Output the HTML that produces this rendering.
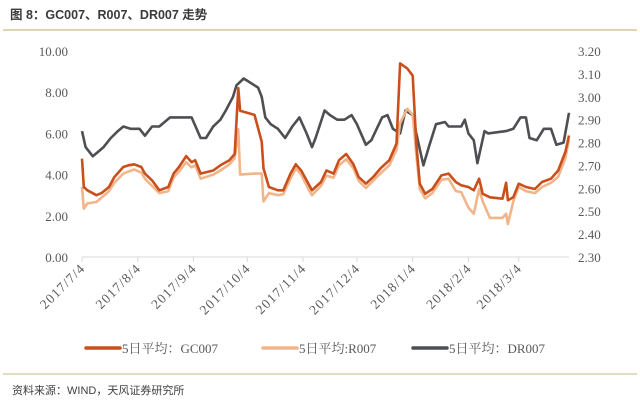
<!DOCTYPE html>
<html><head><meta charset="utf-8"><style>
body{margin:0;background:#fff;width:640px;height:402px;overflow:hidden;font-family:"Liberation Sans","Noto Sans CJK SC",sans-serif}
svg{display:block}
</style></head><body>
<svg id="chart" width="640" height="402">
<text x="10" y="19" font-size="12.5" font-weight="bold" fill="#3a3a3a" font-family="Liberation Sans,Noto Sans CJK SC,sans-serif">图 8：GC007、R007、DR007 走势</text>
<line x1="3" y1="30" x2="637" y2="30" stroke="#d8c59a" stroke-width="1.5"/>
<line x1="3" y1="374" x2="637" y2="374" stroke="#d8cfa8" stroke-width="1.5"/>
<text x="12" y="394" font-size="11" fill="#404040">资料来源：WIND，天风证券研究所</text>
<g id="plot"></g>
</svg>
<script>
const days=[0,1,3,8,11,15,18,23,26,29,33,35,39,43,48,51,54,58,61,63,66,73,77,82,85,87,88,96,100,101,104,109,112,116,119,122,126,128,133,136,140,143,147,151,154,158,162,166,171,175,177,181,184,186,188,191,195,200,204,208,211,215,218,221,223,227,234,236,237,240,243,247,252,256,261,265,269,271];
const gc007=[4.77,3.4,3.24,3.0,3.11,3.4,3.88,4.37,4.45,4.5,4.37,4.05,3.72,3.24,3.4,4.05,4.37,4.9,4.6,4.7,4.05,4.2,4.45,4.7,5.0,8.2,7.1,6.9,5.6,4.3,3.4,3.24,3.24,4.05,4.5,4.2,3.56,3.24,3.64,4.2,4.05,4.7,5.0,4.5,3.88,3.56,3.88,4.29,4.7,5.5,9.4,9.15,8.8,5.5,3.56,3.07,3.3,3.96,4.05,3.64,3.48,3.4,3.24,3.8,3.07,2.9,2.83,3.6,2.75,2.9,3.56,3.4,3.3,3.64,3.8,4.2,5.1,5.9];
const r007=[3.4,2.35,2.6,2.67,2.9,3.2,3.6,4.05,4.15,4.25,4.1,3.8,3.45,3.1,3.2,3.85,4.15,4.6,4.35,4.45,3.8,4.0,4.2,4.5,4.8,6.2,4.0,4.05,4.05,2.7,3.1,3.0,3.05,3.8,4.3,4.0,3.3,3.0,3.45,3.95,3.85,4.45,4.75,4.3,3.7,3.35,3.7,4.05,4.45,5.2,6.5,7.2,6.9,5.0,3.3,2.85,3.1,3.75,3.8,3.2,3.15,2.4,2.1,3.3,2.7,1.9,1.9,2.1,1.6,2.7,3.4,3.2,3.1,3.4,3.6,3.9,4.8,5.7];
const drDays=[0,2,6,9,12,16,20,23,27,32,35,39,43,49,54,61,66,69,73,77,80,84,86,90,98,100,102,105,109,113,117,121,125,128,130,135,138,142,146,150,153,158,161,167,170,173,177,180,184,186,190,193,197,202,204,211,213,215,218,220,224,226,236,240,244,247,249,253,257,261,264,268,271];
const dr007=[2.85,2.78,2.74,2.76,2.78,2.82,2.85,2.87,2.86,2.86,2.83,2.87,2.87,2.91,2.91,2.91,2.82,2.82,2.87,2.9,2.94,3.0,3.05,3.08,3.04,3.0,2.91,2.88,2.86,2.82,2.87,2.91,2.84,2.78,2.82,2.94,2.92,2.9,2.9,2.92,2.88,2.79,2.81,2.91,2.92,2.86,2.84,2.94,2.92,2.84,2.7,2.78,2.88,2.89,2.87,2.87,2.9,2.84,2.81,2.71,2.85,2.84,2.85,2.86,2.91,2.91,2.82,2.81,2.86,2.86,2.79,2.8,2.93];
const leftTicks=["0.00","2.00","4.00","6.00","8.00","10.00"];
const rightTicks=["2.30","2.40","2.50","2.60","2.70","2.80","2.90","3.00","3.10","3.20"];
const xLabels=["2017/7/4","2017/8/4","2017/9/4","2017/10/4","2017/11/4","2017/12/4","2018/1/4","2018/2/4","2018/3/4"];
const xTickDays=[0,31,62,92,123,153,184,215,243];

const X0=82,X1=569,D1=271,YT=51,YB=257;
const xs=d=>X0+(X1-X0)*d/D1;
const yl=v=>YB-(YB-YT)*v/10;
const yr=v=>YB-(YB-YT)*(v-2.3)/0.9;
const g=document.getElementById('plot');
const NS='http://www.w3.org/2000/svg';
function mk(t,a){const e=document.createElementNS(NS,t);for(const k in a)e.setAttribute(k,a[k]);g.appendChild(e);return e;}

const ax=mk('line',{x1:X0,y1:YB,x2:X1,y2:YB,stroke:'#d9d9d9','stroke-width':1});


leftTicks.forEach(s=>{const t=mk('text',{x:68,y:yl(+s)+5,'text-anchor':'end','font-size':13,fill:'#595959','font-family':'Liberation Serif,serif'});t.textContent=s;

});
rightTicks.forEach(s=>{const t=mk('text',{x:578,y:yr(+s)+5,'font-size':13,fill:'#595959','font-family':'Liberation Serif,serif'});t.textContent=s;

});
xLabels.forEach((s,i)=>{const x=xs(xTickDays[i]);
const tk=mk('line',{x1:x,y1:YB,x2:x,y2:YB+5,stroke:'#d9d9d9'});


const t=mk('text',{x:x+4,y:YB+12,'text-anchor':'end','font-size':13.5,'letter-spacing':1.2,fill:'#595959','font-family':'Liberation Serif,serif',transform:`rotate(-45 ${x+4} ${YB+12})`});t.textContent=s;

});

function line(ds,vs,f,c,name){const d=ds.map((dd,i)=>(i?'L':'M')+xs(dd).toFixed(1)+','+f(vs[i]).toFixed(1)).join('');
const p=mk('path',{d:d,fill:'none',stroke:c,'stroke-width':2.6,'stroke-linejoin':'round'});

}
line(drDays,dr007,yr,'#4d4f52','dr007-line');
line(days,r007,yl,'#f2b58a','r007-line');
line(days,gc007,yl,'#c9501c','gc007-line');

const leg=[[86,'#c9501c','5日平均：GC007'],[263,'#f2b58a','5日平均:R007'],[413,'#4d4f52','5日平均：DR007']];
leg.forEach(([x,c,s])=>{const l=mk('line',{x1:x,y1:348,x2:x+34,y2:348,stroke:c,'stroke-width':3.5,'stroke-linecap':'round'});


const t=mk('text',{x:x+36,y:353,'font-size':13,fill:'#595959','font-family':'Liberation Serif,Noto Serif CJK SC,serif'});t.textContent=s;

});
</script>
</body></html>
